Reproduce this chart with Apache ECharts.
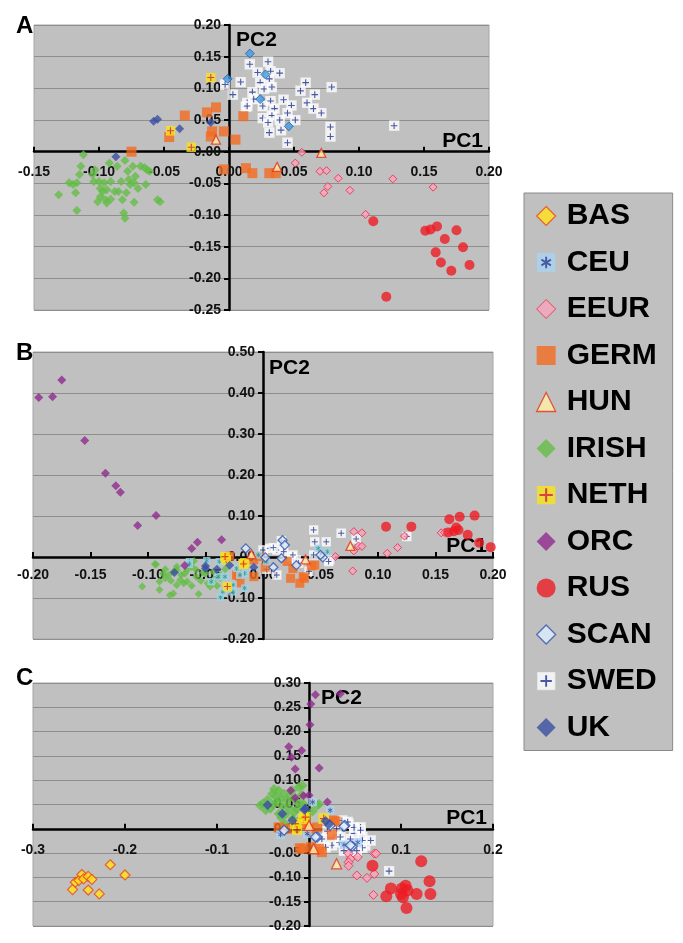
<!DOCTYPE html>
<html>
<head>
<meta charset="utf-8">
<title>PCA panels</title>
<script src="https://cdn.jsdelivr.net/npm/echarts@6/dist/echarts.min.js"></script>
<style>
  html, body { margin: 0; padding: 0; background: #fff; }
  #main { width: 683px; height: 943px; }
</style>
</head>
<body>
<div id="main"></div>
<script>
// population names (legend order)
var populations = ['BAS', 'CEU', 'EEUR', 'GERM', 'HUN', 'IRISH', 'NETH', 'ORC', 'RUS', 'SCAN', 'SWED', 'UK'];

// axis ticks for each panel [min, max, step]
var xTicksA = [-0.15, 0.20, 0.05];
var yTicksA = [-0.25, 0.20, 0.05];
var xTicksB = [-0.20, 0.20, 0.05];
var yTicksB = [-0.20, 0.50, 0.10];
var xTicksC = [-0.3, 0.2, 0.1];
var yTicksC = [-0.20, 0.30, 0.05];

// ---- panel A : [PC1, PC2]
var aIrish = [[-0.112,-0.005],[-0.131,-0.068],[-0.123,-0.049],[-0.120,-0.052],[-0.117,-0.049],[-0.118,-0.065],[-0.115,-0.036],[-0.117,-0.093],[-0.105,-0.036],[-0.104,-0.047],[-0.103,-0.029],[-0.100,-0.047],[-0.099,-0.058],[-0.096,-0.049],[-0.094,-0.060],[-0.092,-0.018],[-0.091,-0.047],[-0.099,-0.071],[-0.101,-0.079],[-0.097,-0.063],[-0.095,-0.076],[-0.094,-0.081],[-0.091,-0.075],[-0.088,-0.063],[-0.083,-0.047],[-0.085,-0.063],[-0.086,-0.023],[-0.080,-0.014],[-0.078,-0.031],[-0.077,-0.044],[-0.076,-0.052],[-0.074,-0.023],[-0.073,-0.049],[-0.072,-0.039],[-0.070,-0.058],[-0.068,-0.023],[-0.065,-0.025],[-0.064,-0.052],[-0.063,-0.029],[-0.061,-0.031],[-0.055,-0.076],[-0.053,-0.079],[-0.082,-0.076],[-0.079,-0.065],[-0.073,-0.080],[-0.081,-0.097],[-0.080,-0.105],[-0.114,-0.023]];
var aUk = [[-0.058,0.048],[-0.055,0.051],[-0.038,0.036],[-0.087,-0.008],[-0.014,0.046]];
var aNeth = [[-0.014,0.117],[-0.045,0.033],[-0.029,0.007]];
var aGerm = [[-0.046,0.023],[-0.034,0.057],[-0.017,0.062],[-0.010,0.070],[-0.013,0.032],[-0.014,0.024],[-0.004,0.032],[0.005,0.019],[0.011,0.056],[-0.004,-0.028],[0.013,-0.026],[0.018,-0.034],[0.031,-0.034],[0.036,-0.034],[-0.075,0.000]];
var aHun = [[-0.010,0.019],[0.071,-0.002],[0.037,-0.024]];
var aScan = [[0.016,0.155],[-0.001,0.115],[0.028,0.122],[0.024,0.083],[0.046,0.040]];
var aSwed = [[0.016,0.138],[0.030,0.142],[0.039,0.124],[0.022,0.125],[0.032,0.127],[0.031,0.115],[0.024,0.109],[0.009,0.110],[-0.003,0.106],[0.003,0.090],[0.018,0.094],[0.027,0.099],[0.033,0.102],[0.019,0.083],[0.014,0.077],[0.013,0.071],[0.026,0.072],[0.032,0.080],[0.035,0.068],[0.042,0.082],[0.048,0.073],[0.045,0.061],[0.026,0.053],[0.033,0.057],[0.030,0.046],[0.039,0.050],[0.051,0.050],[0.040,0.034],[0.031,0.030],[0.045,0.014],[0.055,0.096],[0.059,0.109],[0.066,0.090],[0.060,0.077],[0.065,0.068],[0.071,0.061],[0.079,0.102],[0.078,0.039],[0.078,0.024],[0.127,0.041],[0.014,0.072]];
var aEeur = [[0.056,-0.001],[0.051,-0.018],[0.070,-0.031],[0.075,-0.030],[0.084,-0.042],[0.076,-0.055],[0.073,-0.065],[0.093,-0.061],[0.126,-0.043],[0.157,-0.056],[0.105,-0.099]];
var aRus = [[0.111,-0.110],[0.151,-0.125],[0.155,-0.123],[0.160,-0.118],[0.175,-0.124],[0.166,-0.138],[0.180,-0.151],[0.159,-0.159],[0.163,-0.175],[0.171,-0.188],[0.185,-0.179],[0.121,-0.229]];

// ---- panel B
var bOrc = [[-0.195,0.389],[-0.183,0.391],[-0.175,0.432],[-0.155,0.284],[-0.137,0.204],[-0.128,0.174],[-0.124,0.158],[-0.109,0.077],[-0.093,0.101],[-0.062,0.021],[-0.057,0.036],[-0.036,0.042],[-0.068,-0.021]];
var bIrish = [[-0.093,-0.018],[-0.105,-0.072],[-0.090,-0.080],[-0.085,-0.052],[-0.081,-0.093],[-0.078,-0.089],[-0.075,-0.068],[-0.072,-0.056],[-0.069,-0.064],[-0.082,-0.044],[-0.078,-0.036],[-0.071,-0.044],[-0.066,-0.032],[-0.062,-0.024],[-0.058,-0.048],[-0.056,-0.090],[-0.050,-0.040],[-0.048,-0.064],[-0.043,-0.056],[-0.037,-0.052],[-0.087,-0.040],[-0.075,-0.024],[-0.094,-0.017],[-0.085,-0.030],[-0.075,-0.032],[-0.058,-0.032],[-0.052,-0.038],[-0.043,-0.036],[-0.037,-0.044],[-0.033,-0.030],[-0.066,-0.060],[-0.062,-0.070],[-0.054,-0.058],[-0.080,-0.058],[-0.068,-0.040],[-0.046,-0.072],[-0.090,-0.060],[-0.060,-0.010],[-0.040,-0.070]];
var bUk = [[-0.077,-0.038],[-0.050,-0.028],[-0.029,-0.020],[-0.008,-0.025],[-0.050,-0.022],[-0.040,-0.030]];
var bCeu = [[-0.064,-0.011],[-0.049,-0.009],[-0.038,-0.011],[-0.023,-0.028],[-0.016,-0.040],[-0.004,0.005],[0.003,-0.011],[0.048,0.021],[0.056,0.013],[-0.037,-0.098],[-0.035,-0.085],[-0.026,-0.068],[-0.016,-0.076],[-0.039,-0.048],[-0.020,-0.044],[-0.064,-0.017],[-0.026,-0.085],[-0.033,-0.048],[-0.045,-0.060]];
var bNeth = [[-0.032,-0.007],[-0.016,-0.014],[-0.031,-0.072],[-0.017,-0.017],[-0.033,0.001]];
var bGerm = [[-0.029,0.002],[-0.022,-0.044],[-0.008,-0.007],[0.002,-0.025],[0.021,-0.011],[0.026,-0.028],[0.035,-0.048],[0.042,-0.022],[-0.023,-0.044],[-0.020,-0.063],[-0.008,-0.048],[0.024,-0.052],[0.032,-0.064],[0.036,-0.052],[0.045,-0.020],[-0.003,0.001]];
var bHun = [[-0.010,0.007],[0.037,-0.006],[0.076,0.027]];
var bScan = [[-0.015,0.021],[0.002,-0.001],[0.017,0.041],[0.019,0.029],[0.016,-0.003],[0.009,-0.025],[0.052,-0.001],[0.029,-0.020],[0.050,0.005]];
var bSwed = [[0.000,0.017],[0.006,0.021],[0.012,0.017],[0.018,0.013],[0.025,0.001],[0.044,0.066],[0.045,0.037],[0.055,0.037],[0.068,0.058],[0.058,-0.007],[0.044,0.005],[0.029,-0.007],[0.012,-0.044],[0.081,0.044],[0.125,0.050],[0.009,0.023],[0.016,0.040],[0.026,0.005],[0.031,-0.015],[0.057,-0.011],[0.003,-0.030],[0.040,-0.035]];
var bEeur = [[0.079,0.062],[0.086,0.059],[0.083,0.027],[0.086,0.026],[0.079,0.015],[0.063,0.001],[0.108,0.009],[0.117,0.023],[0.123,0.051],[0.155,0.059],[0.078,-0.034],[0.158,0.060]];
var bRus = [[0.107,0.074],[0.129,0.074],[0.162,0.092],[0.171,0.098],[0.184,0.101],[0.166,0.063],[0.168,0.072],[0.170,0.066],[0.178,0.054],[0.188,0.035],[0.198,0.024],[0.161,0.060]];

// ---- panel C
var cBas = [[-0.257,-0.125],[-0.254,-0.110],[-0.250,-0.106],[-0.247,-0.094],[-0.245,-0.103],[-0.240,-0.098],[-0.236,-0.104],[-0.240,-0.126],[-0.228,-0.134],[-0.216,-0.074],[-0.200,-0.095]];
var cOrc = [[0.007,0.276],[0.002,0.257],[0.001,0.214],[-0.022,0.169],[-0.008,0.161],[-0.015,0.123],[0.011,0.125],[0.034,0.278],[-0.019,0.147],[-0.015,0.064],[-0.006,0.068],[0.020,0.055],[-0.020,0.079],[0.000,0.069]];
var cIrish = [[-0.053,0.048],[-0.050,0.052],[-0.040,0.072],[-0.038,0.082],[-0.033,0.079],[-0.031,0.062],[-0.027,0.072],[-0.024,0.058],[-0.018,0.079],[-0.011,0.086],[-0.007,0.089],[-0.035,0.055],[-0.042,0.041],[-0.033,0.031],[-0.025,0.031],[-0.013,0.041],[-0.006,0.051],[0.009,0.048],[-0.026,0.010],[-0.018,0.021],[-0.010,0.052],[-0.029,0.046],[-0.036,0.066],[-0.021,0.067],[-0.015,0.060],[-0.045,0.060],[-0.039,0.050],[-0.016,0.034],[-0.004,0.028],[-0.030,0.022],[-0.022,0.044],[-0.008,0.070],[-0.047,0.038],[-0.012,0.015],[0.004,0.036],[0.011,0.051]];
var cUk = [[-0.045,0.049],[-0.029,0.031],[-0.004,0.041],[-0.018,0.017],[0.018,0.016],[0.022,0.010],[-0.005,0.039]];
var cCeu = [[0.004,0.055],[0.023,0.038],[-0.031,-0.012],[-0.002,-0.010],[0.038,-0.033],[0.053,-0.028]];
var cNeth = [[-0.006,0.021],[-0.015,0.010],[0.016,0.021],[-0.013,-0.002],[-0.004,0.024]];
var cGerm = [[-0.007,-0.041],[0.002,-0.038],[0.011,-0.041],[0.014,-0.048],[0.009,0.003],[0.000,0.000],[0.027,0.017],[0.025,-0.012],[-0.004,0.007],[-0.033,0.003],[-0.024,0.000],[0.029,0.015],[-0.010,-0.040]];
var cHun = [[0.000,0.007],[0.005,-0.041],[0.030,-0.072]];
var cScan = [[-0.027,-0.003],[0.009,-0.017],[0.023,0.007],[0.039,0.007],[0.047,-0.036],[0.007,-0.017],[0.038,0.005],[0.045,-0.034]];
var cSwed = [[0.014,-0.021],[0.025,-0.034],[0.033,-0.028],[0.043,0.010],[0.049,-0.010],[0.056,0.003],[0.058,-0.017],[0.061,-0.034],[0.067,-0.024],[0.045,-0.021],[0.034,-0.017],[0.087,-0.087],[0.036,0.017],[0.018,-0.038],[0.049,0.003],[0.056,-0.003],[0.058,-0.024],[0.042,0.014],[0.058,-0.039],[0.030,0.000],[0.020,-0.005],[0.052,-0.045],[0.038,-0.045]];
var cEeur = [[0.043,-0.051],[0.045,-0.062],[0.043,-0.069],[0.043,-0.076],[0.053,-0.058],[0.052,-0.096],[0.063,-0.101],[0.071,-0.093],[0.071,-0.051],[0.073,-0.051],[0.070,-0.136]];
var cRus = [[0.069,-0.076],[0.122,-0.067],[0.084,-0.139],[0.089,-0.123],[0.101,-0.123],[0.105,-0.117],[0.100,-0.134],[0.107,-0.127],[0.102,-0.141],[0.117,-0.134],[0.131,-0.108],[0.132,-0.134],[0.106,-0.163]];

var FONT = '"Liberation Sans", Arial, sans-serif';

// plot boxes of the three panels
var boxA = { left: 34, top: 25, width: 455, height: 285 };
var boxB = { left: 33, top: 352, width: 460, height: 287 };
var boxC = { left: 33, top: 683, width: 460, height: 243 };

// svg markers for the two-colour symbols
function svgIcon(body) {
    var svg = '<svg xmlns="http://www.w3.org/2000/svg" width="20" height="20" viewBox="0 0 20 20">' + body + '</svg>';
    return 'image://data:image/svg+xml;charset=utf-8,' + encodeURIComponent(svg);
}
var nethIcon = svgIcon('<rect width="20" height="20" fill="#f7e31c"/><path d="M10 3V17M3 10H17" stroke="#e0261c" stroke-width="2.2"/>');
var swedIcon = svgIcon('<rect x="0.5" y="0.5" width="19" height="19" fill="#ffffff" stroke="#e6e6e6"/><path d="M10 4V16M4 10H16" stroke="#2b3f9e" stroke-width="2"/>');
var ceuIcon = svgIcon('<rect width="20" height="20" fill="#a9d4f2"/><path d="M10 4V16M5 7L15 13M5 13L15 7" stroke="#2b3f9e" stroke-width="2"/>');
var ceuIconB = svgIcon('<rect width="20" height="20" fill="#9fd2e8"/><path d="M10 4V16M5 7L15 13M5 13L15 7" stroke="#1e9a8c" stroke-width="2.2"/>');

var styles = {
    BAS: { color: '#ffe21a', borderColor: '#e8461a', borderWidth: 1.2 },
    EEUR: { color: '#f7a3bd', borderColor: '#e62a45', borderWidth: 1 },
    GERM: { color: '#f26b21' },
    HUN: { color: '#fff0a6', borderColor: '#e2321c', borderWidth: 1.3 },
    IRISH: { color: '#63bd45' },
    ORC: { color: '#8e2a8c' },
    RUS: { color: '#ec1c24' },
    SCAN: { color: '#dcedfb', borderColor: '#3552ad', borderWidth: 1.3 },
    SCANA: { color: '#3f9be0', borderColor: '#2261b0', borderWidth: 1 },
    UK: { color: '#3a4fa1' }
};

/**
 * scatter series for one population in one panel
 */
function pts(name, panel, data, symbol, size, style) {
    return {
        name: name,
        type: 'scatter',
        xAxisIndex: panel,
        yAxisIndex: panel,
        data: data,
        symbol: symbol,
        symbolSize: size,
        itemStyle: style || {},
        emphasis: { disabled: true }
    };
}

function fmt2(v) { return v.toFixed(2); }
function fmt1(v) { return Math.abs(v) < 1e-9 ? '0' : v.toFixed(1); }

// distance (px) from the low edge of an axis to its zero value
function zeroShift(ticks, size) {
    return (0 - ticks[0]) / (ticks[1] - ticks[0]) * size;
}

// x axis drawn through y = 0 (moved up from the bottom edge)
function xAxisFor(panel, ticks, yTicks, box, formatter, labelMargin) {
    return {
        type: 'value', gridIndex: panel, position: 'bottom',
        offset: -zeroShift(yTicks, box.height),
        min: ticks[0], max: ticks[1], interval: ticks[2],
        name: 'PC1', nameLocation: 'end', nameGap: -6,
        nameTextStyle: { fontFamily: FONT, fontWeight: 'bold', fontSize: 21, color: '#000', align: 'right', verticalAlign: 'bottom' },
        axisLine: { onZero: false, lineStyle: { color: '#000', width: 2.5 } },
        axisTick: { show: true, inside: true, length: 5, lineStyle: { color: '#000', width: 2 } },
        axisLabel: { fontFamily: FONT, fontWeight: 'bold', fontSize: 14, color: '#111', margin: labelMargin, formatter: formatter },
        splitLine: { show: false }
    };
}

// y axis drawn through x = 0 (moved right from the left edge)
function yAxisFor(panel, ticks, xTicks, box, formatter, nameGap, namePad) {
    return {
        type: 'value', gridIndex: panel, position: 'left',
        offset: -zeroShift(xTicks, box.width),
        min: ticks[0], max: ticks[1], interval: ticks[2],
        name: 'PC2', nameLocation: 'end', nameGap: nameGap,
        nameTextStyle: { fontFamily: FONT, fontWeight: 'bold', fontSize: 21, color: '#000', align: 'left', verticalAlign: 'middle', padding: [0, 0, 0, namePad] },
        axisLine: { onZero: false, lineStyle: { color: '#000', width: 2.5 } },
        axisTick: { show: true, inside: false, length: 5, lineStyle: { color: '#000', width: 2 } },
        axisLabel: { fontFamily: FONT, fontWeight: 'bold', fontSize: 14, color: '#111', margin: 8, formatter: formatter },
        splitLine: { show: true, lineStyle: { color: '#8e8e8e', width: 1.2 } }
    };
}

function gridFor(box) {
    return Object.assign({
        show: true, backgroundColor: '#c0c0c0', borderColor: '#a6a6a6', borderWidth: 1,
        containLabel: false, outerBoundsMode: 'none'
    }, box);
}

var series = [
    // panel A
    pts('SWED', 0, aSwed, swedIcon, 11),
    pts('GERM', 0, aGerm, 'rect', 10, styles.GERM),
    pts('IRISH', 0, aIrish, 'diamond', 9, styles.IRISH),
    pts('EEUR', 0, aEeur, 'diamond', 8, styles.EEUR),
    pts('RUS', 0, aRus, 'circle', 10, styles.RUS),
    pts('NETH', 0, aNeth, nethIcon, 10),
    pts('SCAN', 0, aScan, 'diamond', 9, styles.SCANA),
    pts('UK', 0, aUk, 'diamond', 9, styles.UK),
    pts('HUN', 0, aHun, 'triangle', 9, styles.HUN),
    // panel B
    pts('SWED', 1, bSwed, swedIcon, 10),
    pts('IRISH', 1, bIrish, 'diamond', 8, styles.IRISH),
    pts('GERM', 1, bGerm, 'rect', 9, styles.GERM),
    pts('CEU', 1, bCeu, ceuIconB, 8),
    pts('EEUR', 1, bEeur, 'diamond', 8, styles.EEUR),
    pts('RUS', 1, bRus, 'circle', 10, styles.RUS),
    pts('ORC', 1, bOrc, 'diamond', 9, styles.ORC),
    pts('NETH', 1, bNeth, nethIcon, 10),
    pts('SCAN', 1, bScan, 'diamond', 9, styles.SCAN),
    pts('UK', 1, bUk, 'diamond', 9, styles.UK),
    pts('HUN', 1, bHun, 'triangle', 9, styles.HUN),
    // panel C
    pts('SWED', 2, cSwed, swedIcon, 11),
    pts('IRISH', 2, cIrish, 'diamond', 10, styles.IRISH),
    pts('GERM', 2, cGerm, 'rect', 10, styles.GERM),
    pts('EEUR', 2, cEeur, 'diamond', 9, styles.EEUR),
    pts('RUS', 2, cRus, 'circle', 12, styles.RUS),
    pts('ORC', 2, cOrc, 'diamond', 9, styles.ORC),
    pts('BAS', 2, cBas, 'diamond', 10, styles.BAS),
    pts('CEU', 2, cCeu, ceuIcon, 9),
    pts('NETH', 2, cNeth, nethIcon, 11),
    pts('SCAN', 2, cScan, 'diamond', 10, styles.SCAN),
    pts('UK', 2, cUk, 'diamond', 10, styles.UK),
    pts('HUN', 2, cHun, 'triangle', 10, styles.HUN)
];

// legend entries with their own icons
var legendIcons = {
    BAS: { icon: 'diamond', itemStyle: styles.BAS },
    CEU: { icon: ceuIcon },
    EEUR: { icon: 'diamond', itemStyle: styles.EEUR },
    GERM: { icon: 'rect', itemStyle: styles.GERM },
    HUN: { icon: 'triangle', itemStyle: styles.HUN },
    IRISH: { icon: 'diamond', itemStyle: styles.IRISH },
    NETH: { icon: nethIcon },
    ORC: { icon: 'diamond', itemStyle: styles.ORC },
    RUS: { icon: 'circle', itemStyle: styles.RUS },
    SCAN: { icon: 'diamond', itemStyle: styles.SCAN },
    SWED: { icon: swedIcon },
    UK: { icon: 'diamond', itemStyle: styles.UK }
};
var legendData = populations.map(function (p) {
    var d = { name: p, icon: legendIcons[p].icon };
    if (legendIcons[p].itemStyle) d.itemStyle = legendIcons[p].itemStyle;
    return d;
});

var letterStyle = { fontFamily: FONT, fontWeight: 'bold', fontSize: 24, color: '#000' };

var myChart = echarts.init(document.getElementById('main'), null, { renderer: 'canvas' });
var option = {
    animation: false,
    backgroundColor: '#ffffff',
    title: [
        { text: 'A', left: 11, top: 9, textStyle: letterStyle },
        { text: 'B', left: 11, top: 336, textStyle: letterStyle },
        { text: 'C', left: 11, top: 661, textStyle: letterStyle }
    ],
    legend: {
        orient: 'vertical',
        left: 524, top: 193,
        data: legendData,
        itemWidth: 19, itemHeight: 19,
        itemGap: 16.5,
        selectedMode: false,
        padding: [8, 16, 8, 12],
        backgroundColor: '#c0c0c0',
        borderColor: '#8a8a8a',
        borderWidth: 1,
        textStyle: { fontFamily: FONT, fontWeight: 'bold', fontSize: 30, color: '#000', padding: [0, 0, 0, 6] }
    },
    grid: [gridFor(boxA), gridFor(boxB), gridFor(boxC)],
    xAxis: [
        xAxisFor(0, xTicksA, yTicksA, boxA, fmt2, 13),
        xAxisFor(1, xTicksB, yTicksB, boxB, fmt2, 11),
        xAxisFor(2, xTicksC, yTicksC, boxC, fmt1, 14)
    ],
    yAxis: [
        yAxisFor(0, yTicksA, xTicksA, boxA, fmt2, -15, 7),
        yAxisFor(1, yTicksB, xTicksB, boxB, fmt2, -16, 6),
        yAxisFor(2, yTicksC, xTicksC, boxC, fmt2, -15, 12)
    ],
    series: series
};
myChart.setOption(option);
</script>
</body>
</html>
